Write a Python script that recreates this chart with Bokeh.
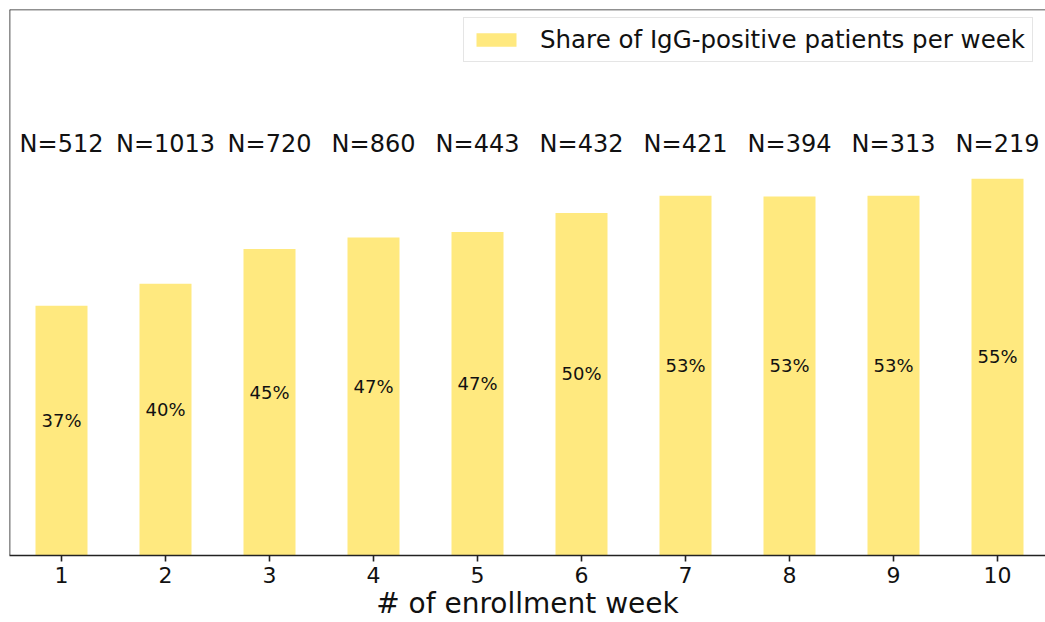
from bokeh.plotting import figure
from bokeh.models import ColumnDataSource, Range1d, FixedTicker, Span, Legend, LegendItem
from bokeh.core.properties import value
from bokeh.embed import file_html
from bokeh.resources import INLINE

# ---- data ----
weeks = [1, 2, 3, 4, 5, 6, 7, 8, 9, 10]
share_positive = [0.366, 0.398, 0.449, 0.466, 0.474, 0.502, 0.527, 0.526, 0.527, 0.552]
n_patients = [512, 1013, 720, 860, 443, 432, 421, 394, 313, 219]
legend_label = "Share of IgG-positive patients per week"
x_label = "# of enrollment week"

FONT = "DejaVu Sans"
BAR_COLOR = "#FFE97F"

pct_labels = [f"{round(v * 100)}%" for v in share_positive]
n_labels = [f"N={n}" for n in n_patients]
pct_y = [v / 2 + 0.015 for v in share_positive]
n_y = [0.603] * len(weeks)

src = ColumnDataSource(dict(x=weeks, top=share_positive, pct=pct_labels, pct_y=pct_y,
                            n=n_labels, n_y=n_y))

p = figure(width=1045, height=622, output_backend="svg", toolbar_location=None,
           x_range=Range1d(0.5, 10.4615), y_range=Range1d(0, 0.8),
           min_border_left=9, min_border_top=9, min_border_right=0, min_border_bottom=0)
p.outline_line_color = None
p.background_fill_color = "white"
p.border_fill_color = "white"
p.xgrid.visible = False
p.ygrid.visible = False
p.yaxis.visible = False

bars = p.vbar(x="x", top="top", width=0.5, bottom=0, source=src,
              fill_color=BAR_COLOR, line_color=None)

p.text(x="x", y="pct_y", text="pct", source=src, text_align="center",
       text_baseline="alphabetic", text_font=value(FONT), text_font_size="18px",
       text_color="#111111")
p.text(x="x", y="n_y", text="n", source=src, text_align="center",
       text_baseline="alphabetic", text_font=value(FONT), text_font_size="24px",
       text_color="#111111")

# spines
p.add_layout(Span(location=0.5, dimension="height", line_color="#222222", line_width=1.6))
p.add_layout(Span(location=0.8, dimension="width", line_color="#222222", line_width=1.6))

ax = p.xaxis[0]
ax.ticker = FixedTicker(ticks=weeks)
ax.axis_line_color = "#222222"
ax.axis_line_width = 1.6
ax.major_tick_line_color = "#222222"
ax.major_tick_line_width = 1.6
ax.major_tick_out = 6
ax.major_tick_in = 0
ax.minor_tick_line_color = None
ax.major_label_text_font = FONT
ax.major_label_text_font_size = "22px"
ax.major_label_text_color = "#111111"
ax.major_label_standoff = 5
ax.axis_label = x_label
ax.axis_label_text_font = FONT
ax.axis_label_text_font_size = "28px"
ax.axis_label_text_font_style = "normal"
ax.axis_label_text_color = "#111111"
ax.axis_label_standoff = 1

legend = Legend(items=[LegendItem(label=legend_label, renderers=[bars])],
                location=(454, 493), orientation="vertical")
legend.label_text_font = FONT
legend.label_text_font_size = "24.5px"
legend.label_text_color = "#111111"
legend.glyph_width = 50
legend.glyph_height = 17
legend.label_standoff = 19
legend.padding = 7
legend.margin = 0
legend.border_line_color = "#cccccc"
legend.border_line_width = 1
legend.background_fill_alpha = 0.85
p.add_layout(legend, "center")

open("out.html", "w").write(file_html(p, INLINE))
